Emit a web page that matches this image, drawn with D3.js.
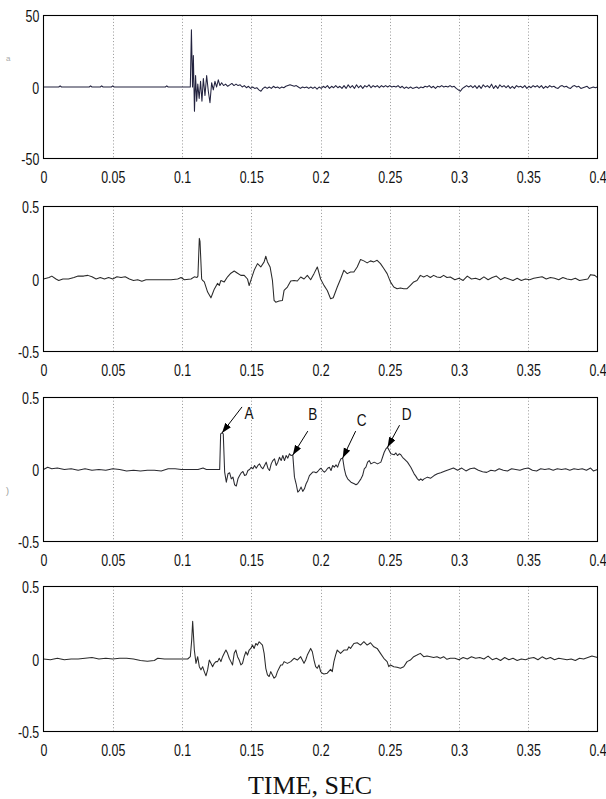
<!DOCTYPE html>
<html><head><meta charset="utf-8">
<script src="https://cdn.jsdelivr.net/npm/d3@7"></script>
<style>body{margin:0;background:#fff}svg{display:block}</style>
</head><body><svg id="c" width="606" height="799"></svg>
<script>
// ---------- DATA ----------
const xTickValues = [0,0.05,0.1,0.15,0.2,0.25,0.3,0.35,0.4];
const xTickLabels = ["0","0.05","0.1","0.15","0.2","0.25","0.3","0.35","0.4"];
const yTickValues1 = [-50,0,50];
const yTickLabels1 = ["-50","0","50"];
const yTickValues = [-0.5,0,0.5];
const yTickLabels = ["-0.5","0","0.5"];
const xTitle = "TIME, SEC";

// [time (s), value]
const trace1 = [[0,0],[0.011,0],[0.012,0.8],[0.013,0],[0.033,0],[0.034,0.8],[0.035,0],[0.041,0],[0.042,0.8],[0.043,0],[0.049,0],[0.05,0.8],[0.051,0],[0.088,0],[0.089,0.8],[0.09,0],[0.106,0],
[0.1068,40],[0.1076,0],[0.1082,22],[0.109,-17],[0.1098,8],[0.1106,-10],[0.1114,2],[0.1124,-8],[0.1134,4],[0.1144,-10],[0.1154,6],[0.1166,-6],[0.1178,8],[0.119,-3],[0.1202,-11],[0.1214,3],[0.1226,-2],[0.1238,4],[0.125,0],[0.1262,5],[0.1274,1],[0.1286,3],[0.13,1],
[0.1315,2],[0.133,0.5],[0.1345,1.5],[0.136,2.5],[0.1375,1],[0.139,2],[0.1405,1],[0.142,1.5],[0.1435,0],[0.145,1],[0.1465,-0.5],[0.148,0.5],[0.1495,-1],[0.151,0],[0.1525,-1],[0.154,-0.5],[0.1555,-2],[0.157,-3],[0.1585,-1],[0.16,0],[0.1615,-1],[0.163,0],[0.1645,-1],[0.166,0.5],[0.1675,-0.5],[0.169,0],[0.1705,-1],[0.172,0],[0.1735,-0.5],[0.175,0.5],[0.1765,1],[0.178,1.5],[0.1795,1],[0.181,0.5],[0.1825,1],[0.184,0],[0.1855,-1],[0.187,0],[0.1885,-0.5],[0.19,0],[0.1915,-1],[0.193,0],[0.1945,-1],[0.196,0],[0.1975,-1.5],[0.199,0],[0.2005,-1],[0.202,0.5],[0.2035,-0.5],[0.205,1],[0.2065,-1],[0.208,0.5],[0.2095,-0.5],[0.211,1],[0.2125,-0.5],[0.214,0.5],[0.2155,-1],[0.217,1],[0.2185,-1],[0.22,1.5],[0.2215,-0.5],[0.223,1],[0.2245,-1],[0.226,1.5],[0.2275,-0.5],[0.229,1],[0.2305,-1],[0.232,1],[0.2335,0],[0.235,1.5],[0.2365,-0.5],[0.238,1],[0.2395,0],[0.241,1],[0.2425,-0.5],[0.244,1],[0.2455,0],[0.247,1],[0.2485,0],[0.25,1],[0.2515,0],[0.253,0.5],[0.2545,0],[0.256,1],[0.2575,-0.5],[0.259,0.5],[0.2605,-1],[0.262,0],[0.2635,-1],[0.265,0],[0.2665,-1],[0.268,-0.5],[0.2695,0],[0.271,-1],[0.2725,0],[0.274,-0.5],[0.2755,0.5],[0.277,0],[0.2785,1],[0.28,-0.5],[0.2815,0.5],[0.283,-1],[0.2845,0.5],[0.286,0],[0.2875,1],[0.289,0],[0.2905,0.5],[0.292,0],[0.2935,1],[0.295,0],[0.2965,0.5],[0.298,-1],[0.2995,-2],[0.301,-3],[0.3025,-1],[0.304,0],[0.3055,1],[0.307,0],[0.3085,1],[0.31,-0.5],[0.3115,1],[0.313,-1],[0.3145,1],[0.316,-1],[0.3175,1.5],[0.319,0],[0.3205,1],[0.322,-0.5],[0.3235,2],[0.325,-1],[0.3265,1],[0.328,-1],[0.3295,1.5],[0.331,0],[0.3325,1],[0.334,-0.5],[0.3355,1],[0.337,-1],[0.3385,0.5],[0.34,-1],[0.3415,1],[0.343,0],[0.3445,0.5],[0.346,-0.5],[0.3475,1],[0.349,-1],[0.3505,0.5],[0.352,-0.5],[0.3535,1],[0.355,0],[0.3565,1],[0.358,-0.5],[0.3595,1],[0.361,-1],[0.3625,0.5],[0.364,-0.5],[0.3655,1],[0.367,0],[0.3685,0.5],[0.37,-0.5],[0.3715,-1],[0.373,0.5],[0.3745,1],[0.376,0],[0.3775,0.5],[0.379,-0.5],[0.3805,-1],[0.382,0.5],[0.3835,1],[0.385,0],[0.3865,0.5],[0.388,-1],[0.3895,-0.5],[0.391,0],[0.3925,0.5],[0.394,-1],[0.3955,-0.5],[0.397,0],[0.3985,-0.5],[0.4,0]];

const trace2 = [[0,0],[0.004,0.01],[0.006,0.02],[0.009,0],[0.011,-0.01],[0.014,0],[0.018,0],[0.022,0.01],[0.025,0.02],[0.029,0.02],[0.032,0.025],[0.035,0.015],[0.038,0],[0.041,0.01],[0.044,0],[0.047,0.01],[0.05,0],[0.053,0.015],[0.056,0.01],[0.059,0.015],[0.062,0],[0.065,-0.01],[0.068,-0.005],[0.071,-0.015],[0.074,-0.005],
[0.0777,-0.005],[0.0825,-0.005],[0.0873,-0.005],[0.0921,-0.005],[0.0969,0],[0.0993,0.01],[0.1017,-0.005],[0.1065,0],[0.1089,0.015],[0.1108,0.01],[0.1115,0.02],[0.1125,0.28],[0.113,0.26],[0.1142,0],[0.1149,-0.01],[0.1161,-0.02],[0.1185,-0.09],[0.1209,-0.13],[0.1221,-0.1],[0.1233,-0.07],[0.1257,-0.03],[0.1269,-0.045],[0.1281,-0.01],[0.1305,-0.02],[0.1329,0.015],[0.1353,0.04],[0.1377,0.055],[0.1401,0.04],[0.1425,0.025],[0.1449,0.025],[0.1473,0],[0.1485,-0.045],[0.1497,-0.01],[0.1521,0.06],[0.1545,0.106],[0.1569,0.083],[0.1593,0.118],[0.1605,0.157],[0.1617,0.118],[0.1636,0.083],[0.1653,-0.01],[0.1665,-0.148],[0.1677,-0.16],[0.1701,-0.152],[0.1725,-0.148],[0.1737,-0.079],[0.1761,-0.056],[0.1785,-0.014],[0.1809,-0.01],[0.1833,-0.014],[0.1857,0.014],[0.1881,0],[0.1905,0.025],[0.1929,-0.005],[0.1953,0.037],[0.1977,0.083],[0.2001,0],[0.2025,-0.044],[0.2049,-0.079],[0.2073,-0.136],[0.2092,-0.129],[0.2121,-0.055],[0.2145,0],[0.2169,0.06],[0.2193,0.037],[0.2217,0.048],[0.2241,0.048],[0.2265,0.083],[0.2289,0.134],[0.2313,0.125],[0.2337,0.111],[0.2361,0.125],[0.2385,0.118],[0.2409,0.129],[0.2433,0.106],[0.2457,0.072],[0.2481,0.037],[0.2505,-0.02],[0.2529,-0.055],[0.2553,-0.067],[0.2577,-0.062],[0.2601,-0.067],[0.2625,-0.067],[0.2649,-0.044],[0.2673,-0.02],[0.2697,-0.01],[0.2721,0.025],[0.2745,0.014],[0.2769,0.025],[0.2793,0.01],[0.2817,0.025],[0.2841,0.014],[0.2865,0.01],[0.2889,0.025],[0.2913,0.01],[0.2937,0.014],
[0.297,-0.005],[0.3,0.005],[0.303,-0.01],[0.306,0.02],[0.309,0],[0.312,0.005],[0.315,-0.005],[0.318,0.015],[0.321,-0.005],[0.324,0.01],[0.327,0.02],[0.33,-0.005],[0.333,0.01],[0.336,0],[0.339,-0.01],[0.342,0.005],[0.345,-0.01],[0.348,0],[0.351,-0.005],[0.354,0.005],[0.357,0.01],[0.36,0.015],[0.363,0],[0.366,0.01],[0.369,0.005],[0.372,-0.005],[0.375,0.01],[0.378,0],[0.381,-0.005],[0.384,0.005],[0.387,-0.01],[0.39,-0.005],[0.393,0],[0.395,0.03],[0.398,0.025],[0.4,0.01]];

const trace3 = [[0,0],[0.003,0.015],[0.006,0.005],[0.01,0.01],[0.015,0],[0.02,0.005],[0.025,-0.005],[0.03,0.005],[0.035,-0.005],[0.04,0],[0.045,-0.005],[0.05,0.005],[0.055,0],[0.06,-0.01],[0.065,-0.005],[0.07,-0.01],[0.075,-0.005],[0.08,-0.005],[0.085,-0.01],[0.09,0.005],[0.095,0.005],[0.0996,0],
[0.1056,0],[0.1116,0],[0.1152,0.01],[0.1176,0],[0.126,0],[0.1272,0],[0.1279,0.247],[0.1289,0.254],[0.1298,0.247],[0.1308,-0.018],[0.132,-0.088],[0.1332,-0.03],[0.1344,-0.023],[0.1356,-0.065],[0.1368,-0.053],[0.138,-0.106],[0.1392,-0.115],[0.1404,-0.065],[0.1416,-0.042],[0.1428,-0.023],[0.144,-0.014],[0.1452,-0.042],[0.1464,-0.037],[0.1476,-0.007],[0.1488,0],[0.15,0.016],[0.1512,0.005],[0.1524,0.028],[0.1536,0.009],[0.1548,0.028],[0.156,0.039],[0.1572,0.016],[0.1584,0.005],[0.1596,0.028],[0.1608,0.051],[0.162,0.009],[0.1632,-0.007],[0.1644,0.039],[0.1656,0.062],[0.1668,0.074],[0.168,0.028],[0.1692,0.051],[0.1704,0.085],[0.1716,0.062],[0.1728,0.097],[0.174,0.062],[0.1752,0.097],[0.1764,0.079],[0.1776,0.109],[0.1788,0.097],[0.18,0.1],[0.1812,-0.053],[0.1824,-0.099],[0.1836,-0.157],[0.1848,-0.145],[0.186,-0.122],[0.1872,-0.152],[0.1884,-0.134],[0.1896,-0.099],[0.1908,-0.076],[0.192,-0.042],[0.1932,-0.03],[0.1944,-0.018],[0.1956,-0.018],[0.1968,-0.023],[0.198,-0.014],[0.1992,0],[0.2004,0.009],[0.2016,-0.007],[0.2028,-0.018],[0.204,-0.007],[0.2052,0.009],[0.2064,0.016],[0.2076,-0.007],[0.2088,0.028],[0.21,0.016],[0.2112,0.032],[0.2124,0.016],[0.2136,0.051],[0.2148,0.074],[0.216,0.079],[0.2172,0.005],[0.2184,-0.042],[0.2196,-0.065],[0.222,-0.088],[0.2244,-0.099],[0.2256,-0.106],[0.2268,-0.099],[0.2292,-0.065],[0.2304,-0.042],[0.2316,0.005],[0.2328,0.016],[0.234,0.051],[0.2352,0.062],[0.2364,0.039],[0.2388,0.051],[0.2412,0.039],[0.2436,0.051],[0.2448,0.085],[0.246,0.12],[0.2472,0.143],[0.2484,0.155],[0.2508,0.109],[0.2532,0.102],[0.2544,0.115],[0.2556,0.097],[0.2568,0.109],[0.258,0.102],[0.2592,0.085],[0.2604,0.074],[0.2628,0.051],[0.2652,0.016],[0.2676,-0.03],[0.2688,-0.046],[0.27,-0.065],[0.2712,-0.076],[0.2724,-0.065],[0.2736,-0.076],[0.2748,-0.065],[0.2772,-0.053],[0.2796,-0.06],[0.282,-0.042],[0.2844,-0.03],[0.2868,-0.023],
[0.29,-0.01],[0.293,0],[0.296,0.01],[0.299,-0.005],[0.302,0.01],[0.305,-0.01],[0.308,0.005],[0.311,0.01],[0.314,-0.005],[0.317,-0.015],[0.32,-0.02],[0.323,-0.005],[0.326,-0.01],[0.329,0.005],[0.332,-0.005],[0.335,-0.01],[0.338,0.005],[0.341,0],[0.344,-0.005],[0.347,0.005],[0.35,0.01],[0.353,-0.005],[0.356,-0.01],[0.359,0.005],[0.362,0],[0.365,0.005],[0.368,-0.005],[0.371,0.005],[0.374,0],[0.377,0.005],[0.38,-0.005],[0.383,0.005],[0.386,0],[0.389,0.005],[0.392,-0.005],[0.395,0.01],[0.397,-0.01],[0.4,0]];

const trace4 = [[0,0],[0.005,-0.005],[0.01,0.005],[0.015,-0.005],[0.02,0],[0.025,0],[0.03,0.005],[0.035,0.01],[0.04,0],[0.045,0.005],[0.05,0],[0.055,0.005],[0.06,0.005],[0.065,0],[0.07,-0.01],[0.075,-0.015],[0.08,-0.01],[0.0825,0.005],[0.0873,0],[0.0921,0],[0.0993,0],[0.1041,0],[0.106,0.016],[0.107,0.13],[0.1077,0.26],[0.1089,0.062],[0.1101,-0.03],[0.1113,0.016],[0.1125,-0.053],[0.1137,-0.075],[0.1149,-0.053],[0.1161,-0.087],[0.1173,-0.116],[0.1185,-0.075],[0.1197,-0.007],[0.1209,-0.03],[0.1221,-0.053],[0.1233,-0.03],[0.1245,-0.018],[0.1257,-0.018],[0.1269,0.005],[0.1281,-0.018],[0.1293,0.016],[0.1305,0.039],[0.1317,0.062],[0.1329,0.039],[0.1341,0.005],[0.1353,-0.018],[0.1365,-0.041],[0.1377,0.039],[0.1389,0.062],[0.1401,0.016],[0.1413,-0.007],[0.1425,-0.041],[0.1437,-0.03],[0.1449,0.016],[0.1461,0.05],[0.1473,0.027],[0.1485,0.062],[0.1497,0.073],[0.1509,0.096],[0.1521,0.073],[0.1533,0.107],[0.1545,0.096],[0.1557,0.119],[0.1569,0.107],[0.1581,0.096],[0.1593,0.039],[0.1605,-0.064],[0.1617,-0.11],[0.1629,-0.121],[0.1641,-0.087],[0.1653,-0.11],[0.1665,-0.132],[0.1677,-0.121],[0.1689,-0.087],[0.1701,-0.064],[0.1713,-0.041],[0.1725,-0.041],[0.1737,-0.018],[0.1761,-0.03],[0.1785,-0.018],[0.1809,0.005],[0.1833,-0.007],[0.1857,0.016],[0.1881,-0.03],[0.1893,-0.007],[0.1905,0.027],[0.1917,0.05],[0.1929,0.073],[0.1941,0.05],[0.1953,-0.007],[0.1965,-0.053],[0.1977,-0.064],[0.1989,-0.041],[0.2001,-0.087],[0.2013,-0.098],[0.2025,-0.103],[0.2049,-0.098],[0.2073,-0.071],[0.2085,-0.087],[0.2097,-0.018],[0.2109,0.027],[0.2121,0.062],[0.2145,0.039],[0.2169,0.062],[0.2193,0.062],[0.2205,0.084],[0.2217,0.073],[0.2241,0.107],[0.2265,0.112],[0.2289,0.096],[0.2313,0.119],[0.2337,0.096],[0.2361,0.112],[0.2385,0.084],[0.2409,0.073],[0.2433,0.039],[0.2457,0.005],[0.2481,-0.018],[0.2493,-0.053],[0.2505,-0.041],[0.2529,-0.053],[0.2553,-0.057],[0.2577,-0.064],[0.2601,-0.053],[0.2625,-0.018],[0.2649,-0.007],[0.2673,0.016],[0.2697,0.027],[0.2721,0.039],[0.2745,0.016],[0.2769,0.021],[0.2793,0.016],[0.2817,0.011],[0.2841,0.016],[0.2865,0.005],[0.2889,0.016],[0.2913,-0.002],[0.2937,0.005],
[0.297,0.005],[0.3,-0.005],[0.303,0.01],[0.306,0],[0.309,0.015],[0.312,0.005],[0.315,0.01],[0.318,0],[0.321,0.02],[0.324,-0.005],[0.327,0.005],[0.33,-0.01],[0.333,0.01],[0.336,-0.005],[0.339,0.005],[0.342,-0.01],[0.345,0],[0.348,-0.005],[0.351,0.005],[0.354,0.01],[0.357,-0.005],[0.36,0.015],[0.363,0],[0.366,0.01],[0.369,-0.005],[0.372,0.005],[0.375,0],[0.378,-0.005],[0.381,0],[0.384,-0.01],[0.387,0.005],[0.39,0],[0.393,0.01],[0.396,0.02],[0.398,0.015],[0.4,0.01]];

// annotations on the third trace
const annLabels = ["A","B","C","D"];
const annTimes  = [0.1289, 0.18, 0.216, 0.2484];
const annValues = [0.254, 0.1, 0.079, 0.155];

// ---------- LAYOUT / STYLE ----------
const plotLeft = 43.5, plotRight = 597.5;
const panelTops = [15.5, 206.5, 397.5, 586.5];
const panelBottoms = [158.5, 351.5, 541.5, 731.5];
const FONT = "Arial, 'Liberation Sans', sans-serif";
const SQ = 0.73;
const annArrowOff = [[20,-26],[15,-24],[13,-27],[12,-22]];
const annLabelOff = [[27,-14],[20,-35],[19,-32],[19,-27]];

const panels = [
  {trace: trace1, domain: [-50, 50], yt: yTickValues1, yl: yTickLabels1, color: "#23233f"},
  {trace: trace2, domain: [-0.5, 0.5], yt: yTickValues, yl: yTickLabels, color: "#2a2a2a"},
  {trace: trace3, domain: [-0.5, 0.5], yt: yTickValues, yl: yTickLabels, color: "#2a2a30"},
  {trace: trace4, domain: [-0.5, 0.5], yt: yTickValues, yl: yTickLabels, color: "#2a2a2a"}
];

const svg = d3.select("#c");
svg.append("rect").attr("width",606).attr("height",799).attr("fill","#fff");
const defs = svg.append("defs");
defs.append("marker").attr("id","ah").attr("markerUnits","userSpaceOnUse")
  .attr("markerWidth",11).attr("markerHeight",8).attr("refX",10).attr("refY",3.5)
  .attr("orient","auto")
  .append("path").attr("d","M0,0 L10,3.5 L0,7 Z").attr("fill","#000");

const x = d3.scaleLinear().domain([0, 0.4]).range([plotLeft, plotRight]);

panels.forEach((p, i) => {
  const top = panelTops[i], bot = panelBottoms[i];
  const y = d3.scaleLinear().domain(p.domain).range([bot, top]);
  const g = svg.append("g");

  // vertical dotted grid
  g.append("g").selectAll("line")
    .data(xTickValues.filter(v => v > 0 && v < 0.4))
    .join("line")
    .attr("x1", d => Math.round(x(d)) + 0.5).attr("x2", d => Math.round(x(d)) + 0.5)
    .attr("y1", top).attr("y2", bot)
    .attr("stroke", "#8a8a8a").attr("stroke-width", 0.9)
    .attr("stroke-dasharray", "1,2.2");

  // signal
  g.append("path").datum(p.trace)
    .attr("fill","none").attr("stroke", p.color).attr("stroke-width", 1.05)
    .attr("stroke-linejoin","round")
    .attr("d", d3.line().x(d => x(d[0])).y(d => y(d[1])));

  // frame
  g.append("rect").attr("x", plotLeft).attr("y", top)
    .attr("width", plotRight - plotLeft).attr("height", bot - top)
    .attr("fill","none").attr("stroke","#000").attr("stroke-width",1.1);

  // x axis
  const xa = g.append("g").attr("transform", `translate(0,${bot})`)
    .call(d3.axisBottom(x).tickValues(xTickValues).tickSize(0)
      .tickFormat((d, k) => xTickLabels[k]));
  xa.select(".domain").remove();
  xa.attr("font-family", FONT).attr("font-size", 17);
  xa.selectAll("text").attr("y", 25).attr("dy", null).attr("fill", "#111")
    .attr("transform", `scale(${SQ},1)`);

  // y axis
  const ya = g.append("g").attr("transform", `translate(${plotLeft},0)`)
    .call(d3.axisLeft(y).tickValues(p.yt).tickSize(0)
      .tickFormat((d, k) => p.yl[k]));
  ya.select(".domain").remove();
  ya.attr("font-family", FONT).attr("font-size", 17);
  ya.selectAll("text").attr("x", -5.8).attr("dy", "0.36em").attr("fill", "#111")
    .attr("transform", `scale(${SQ},1)`);

  // annotations on panel 3
  if (i === 2) {
    annLabels.forEach((lab, k) => {
      const tx = x(annTimes[k]), ty = y(annValues[k]);
      g.append("line")
        .attr("x1", tx + annArrowOff[k][0]).attr("y1", ty + annArrowOff[k][1])
        .attr("x2", tx).attr("y2", ty)
        .attr("stroke","#000").attr("stroke-width",1)
        .attr("marker-end","url(#ah)");
      g.append("text")
        .attr("transform", `translate(${tx + annLabelOff[k][0]},${ty + annLabelOff[k][1]}) scale(0.8,1)`)
        .attr("text-anchor","middle").attr("font-family", FONT).attr("font-size", 17)
        .attr("fill","#111").text(lab);
    });
  }
});

// faint stray glyphs at the far left (cropped y-axis labels)
svg.append("text").attr("x", 6).attr("y", 61).attr("font-family", FONT)
  .attr("font-size", 8).attr("fill", "#aaa").text("a");
svg.append("text").attr("x", 6).attr("y", 494).attr("font-family", FONT)
  .attr("font-size", 9).attr("fill", "#999").text(")");

// x-axis title
svg.append("text").attr("x", 310).attr("y", 794).attr("text-anchor","middle")
  .attr("font-family", "'Liberation Serif', 'Times New Roman', serif")
  .attr("font-size", 26).attr("fill", "#111").text(xTitle);
</script>
</body></html>
